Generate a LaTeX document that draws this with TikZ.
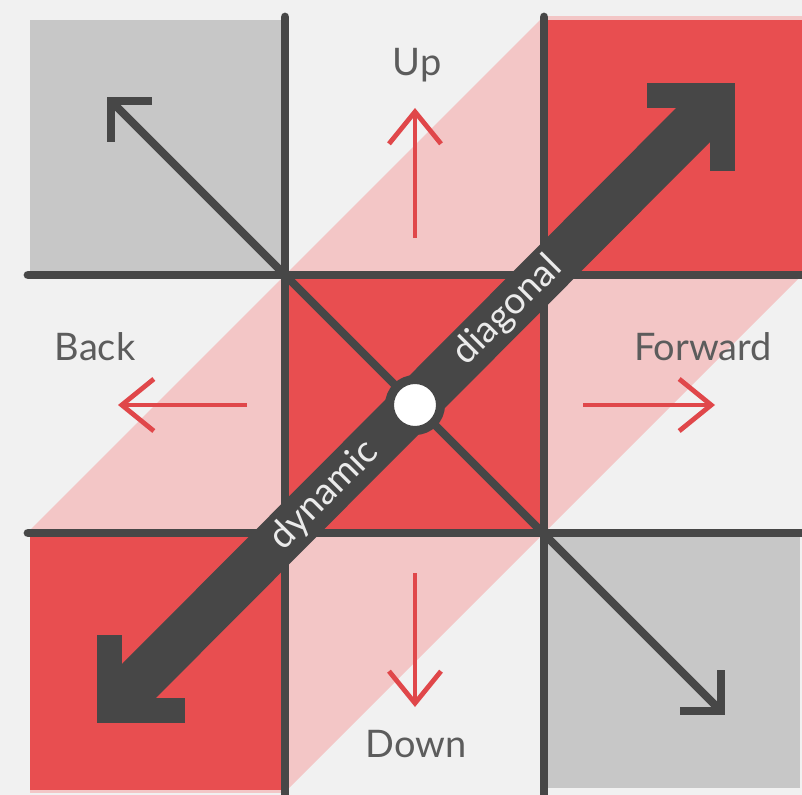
\documentclass[tikz,border=0pt]{standalone}
\usepackage{fontspec}
\setsansfont{Lato}
\usetikzlibrary{arrows.meta, calc}

\definecolor{paper}{HTML}{F1F1F1}
\definecolor{tilegray}{HTML}{C7C7C7}
\definecolor{tilered}{HTML}{E84E50}
\definecolor{bandpink}{HTML}{F3C6C6}
\definecolor{ink}{HTML}{474747}
\definecolor{arrowred}{HTML}{E0474A}
\definecolor{labelgray}{HTML}{5C5C5C}

\begin{document}
\begin{tikzpicture}[
  x=0.025cm, y=-0.025cm,
  font=\sffamily,
  tile/.style={fill=#1},
  gridline/.style={draw=ink, line width=0.22cm, line cap=round},
  thinarrow/.style={draw=ink, line width=0.2cm,
    {Straight Barb[sharp, length=0.72cm, width=1.44cm]}-{Straight Barb[sharp, length=0.72cm, width=1.44cm]}},
  bigshaft/.style={draw=ink, line width=1.2cm},
  bighead/.style={draw=ink, line width=0.625cm, line join=miter},
  redarrow/.style={draw=arrowred, line width=0.12cm, -{Straight Barb[sharp, length=0.8cm, width=1.3cm]}},
  dirlabel/.style={text=labelgray, font=\sffamily\fontsize{27}{32}\selectfont, anchor=base, inner sep=0pt},
  shafttext/.style={text=white!92!black, font=\sffamily\fontsize{26.5}{30}\selectfont, sloped, inner sep=0pt},
  hub/.style={circle, draw=ink, fill=white, line width=0.225cm, minimum size=1.275cm, inner sep=0pt}
]

\useasboundingbox (0,0) rectangle (802,795);
\fill[paper] (0,0) rectangle (802,795);

% corners of the centre square
\coordinate (nw) at (285,275);
\coordinate (ne) at (544,275);
\coordinate (sw) at (285,533);
\coordinate (se) at (544,533);

% pink band along the dynamic diagonal
\begin{scope}
  \clip (30,17) rectangle (802,792);
  \fill[bandpink] (560,0) -- (1077,0) -- (0,1077) -- (0,560) -- cycle;
\end{scope}

% tiles
\fill[tile=tilegray] (30,20) rectangle (nw);
\fill[tile=tilered] (ne) ++(0,-255) rectangle (802,275);
\fill[tile=tilered] (nw) rectangle (se);
\fill[tile=tilered] (sw) ++(-255,0) rectangle (285,790);
\fill[tile=tilegray] (se) rectangle (800,788);

% grid
\draw[gridline] (285,17) -- (285,800);
\draw[gridline] (544,17) -- (544,800);
\draw[gridline] (28,275) -- (810,275);
\draw[gridline] (28,533) -- (810,533);

% the static diagonal
\coordinate (tltip) at (107,97);
\coordinate (brtip) at (725,715);
\draw[thinarrow] (tltip) -- (brtip);

% the dynamic diagonal
\coordinate (lltip) at (97,723);
\coordinate (urtip) at (735,83);
\draw[bigshaft] ($(lltip)+(25,-25)$) -- ($(urtip)+(-25,25)$);
\draw[bighead] (urtip) ++(-88,12.5) -- ++(75.5,0) -- ++(0,75.5);
\draw[bighead] (lltip) ++(12.5,-88) -- ++(0,75.5) -- ++(75.5,0);
\path (lltip) -- (urtip)
  node[shafttext, pos=0.356] {dynamic}
  node[shafttext, pos=0.644] {diagonal};

\node[hub] (hub) at (415,405) {};

% directions
\draw[redarrow] (415,238) -- (415,108);
\draw[redarrow] (415,573) -- (415,707);
\draw[redarrow] (247,405) -- (118,405);
\draw[redarrow] (583,405) -- (715,405);

\node[dirlabel] (up) at (417,75) {Up};
\node[dirlabel] (back) at (95,360) {Back};
\node[dirlabel] (fwd) at (703,360) {Forward};
\node[dirlabel] (down) at (416,757) {Down};

\end{tikzpicture}
\end{document}
